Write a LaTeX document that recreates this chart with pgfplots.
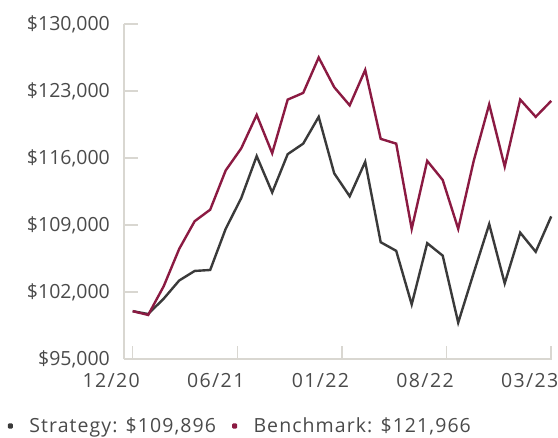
\documentclass[border=0pt]{standalone}
\usepackage{pgfplots}
\pgfplotsset{compat=1.18}
\usepackage{fontspec}
\setmainfont{Open Sans}
\definecolor{strat}{HTML}{3A3A3A}
\definecolor{bench}{HTML}{8B1A42}
\definecolor{axisgray}{HTML}{D9D7D1}
\definecolor{labelgray}{HTML}{4A4A4A}
\begin{document}
\begin{tikzpicture}
\useasboundingbox (-124bp,-79bp) rectangle (434bp,359bp);
\begin{axis}[
  scale only axis,
  width=428.3bp, height=335bp,
  xmin=-0.56, xmax=27.07,
  ymin=95000, ymax=130000,
  scaled y ticks=false,
  axis x line=bottom, axis y line=left,
  axis line style={-, draw=axisgray, line width=2bp},
  tick align=inside,
  major tick length=13.5bp,
  tick style={draw=axisgray, line width=1.6bp},
  xtick={0,6.75,13.5,20.25,27},
  xticklabels={12/20,06/21,01/22,08/22,03/23},
  ytick={95000,102000,109000,116000,123000,130000},
  yticklabels={{\$95,000},{\$102,000},{\$109,000},{\$116,000},{\$123,000},{\$130,000}},
  tick label style={font=\fontsize{19.5bp}{23bp}\selectfont, text=labelgray},
  yticklabel style={inner sep=0pt, anchor=east, xshift=-14bp},
  xticklabel style={inner sep=0pt, anchor=north, yshift=-14.5bp, xshift=-21.5bp,
    font=\fontsize{19.5bp}{23bp}\selectfont\addfontfeatures{LetterSpace=7}},
  legend columns=2,
  legend style={at={(-0.271,-0.2)}, anchor=west, draw=none, fill=none,
    inner sep=0pt, outer sep=0pt,
    font=\fontsize{19.5bp}{23bp}\selectfont\addfontfeatures{LetterSpace=5.5}, text=labelgray,
    nodes={inner sep=0pt},
    /tikz/every even column/.append style={column sep=16bp}},
  legend image code/.code={\fill[draw=none, rounded corners=1bp] (0bp,-2.5bp) rectangle (5bp,2.5bp); \path[draw=none, fill=none] (0bp,0bp) -- (21.5bp,0bp);},
]
\addplot[strat, line width=2.4bp, line join=miter] coordinates {
(0,100000)(1,99700)(2,101300)(3,103200)(4,104200)(5,104300)(6,108600)(7,111800)
(8,116200)(9,112400)(10,116400)(11,117500)(12,120300)(13,114400)(14,112000)
(15,115600)(16,107200)(17,106300)(18,100700)(19,107100)(20,105800)(21,98800)
(22,104000)(23,109100)(24,102900)(25,108200)(26,106200)(27,109896)};
\addlegendentry{Strategy: \$109,896}
\addplot[bench, line width=2.4bp, line join=miter] coordinates {
(0,100000)(1,99600)(2,102600)(3,106500)(4,109400)(5,110600)(6,114700)(7,117000)
(8,120500)(9,116500)(10,122100)(11,122800)(12,126500)(13,123400)(14,121500)
(15,125200)(16,118000)(17,117500)(18,108600)(19,115700)(20,113700)(21,108600)
(22,115700)(23,121600)(24,115100)(25,122100)(26,120300)(27,121966)};
\addlegendentry{Benchmark: \$121,966}
\end{axis}
\end{tikzpicture}
\end{document}
